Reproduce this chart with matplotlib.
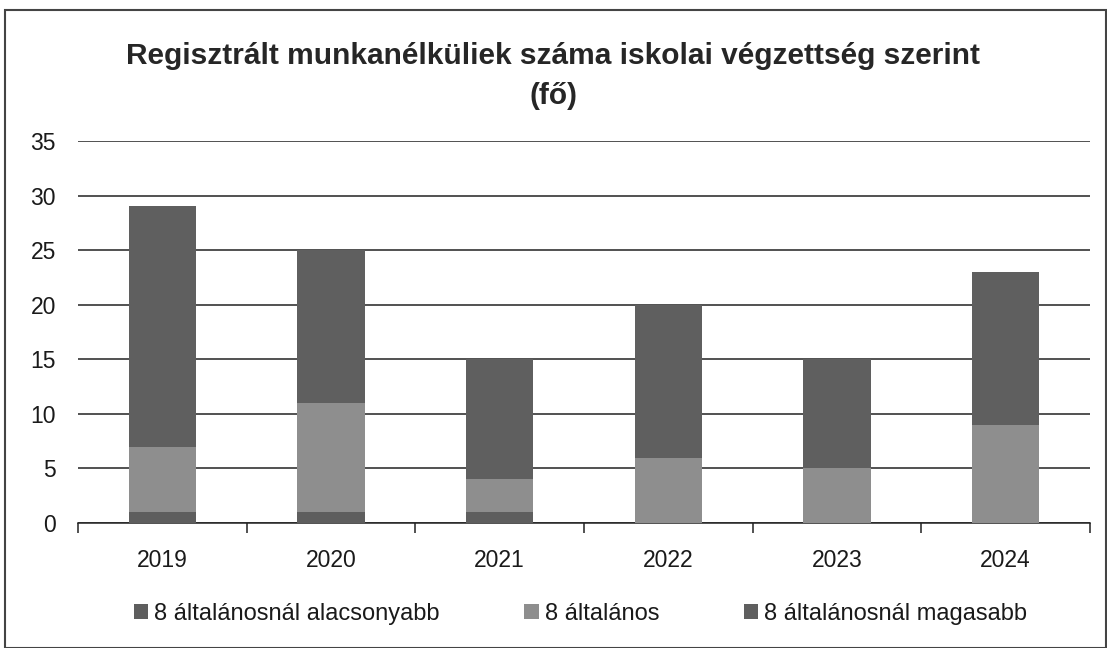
import matplotlib
matplotlib.use("Agg")
import matplotlib.pyplot as plt
from matplotlib.patches import Rectangle
import numpy as np

plt.rcParams['font.family'] = ['Liberation Sans', 'DejaVu Sans']

years = ["2019", "2020", "2021", "2022", "2023", "2024"]
series_names = ["8 általánosnál alacsonyabb", "8 általános", "8 általánosnál magasabb"]
low = [1, 1, 1, 0, 0, 0]
general = [6, 10, 3, 6, 5, 9]
high = [22, 14, 11, 14, 10, 14]
colors = ["#5e5e5e", "#8e8e8e", "#5f5f5f"]

fig = plt.figure(figsize=(11.07, 6.48), dpi=100)
ax = fig.add_axes([78/1107, 1 - 523/648, (1090-78)/1107, (523-141)/648])

x = np.arange(len(years))
w = 0.4
b = np.zeros(len(years))
for vals, name, c in zip([low, general, high], series_names, colors):
    ax.bar(x, vals, w, bottom=b, color=c, label=name, zorder=3)
    b += np.array(vals)

ax.set_xlim(-0.5, len(years) - 0.5)
ax.set_ylim(0, 35)
ax.set_yticks(range(0, 36, 5))
ax.grid(axis='y', color='#222222', linewidth=1.1, zorder=0)
for s in ['top', 'right', 'left']:
    ax.spines[s].set_visible(False)
ax.spines['bottom'].set_color('#222222')
ax.spines['bottom'].set_linewidth(1.1)
ax.set_xticks(x)
ax.set_xticklabels(years, fontsize=16.5, color='#1a1a1a')
ax.tick_params(axis='x', length=0, pad=19)
ax.set_xticks(np.arange(-0.5, len(years), 1), minor=True)
ax.tick_params(axis='x', which='minor', length=7, color='#222222', width=1.1)
ax.tick_params(axis='y', length=0, labelsize=16.5, pad=16, labelcolor='#1a1a1a')

fig.text(0.5, 1 - 56/648, "Regisztrált munkanélküliek száma iskolai végzettség szerint",
         ha='center', va='center', fontsize=21.5, fontweight='bold', color='#262626')
fig.text(0.5, 1 - 96/648, "(fő)", ha='center', va='center', fontsize=21.5,
         fontweight='bold', color='#262626')

fig.legend(loc='center', bbox_to_anchor=(0.5 + 27/1107, 1 - 614/648), ncol=3, frameon=False,
           fontsize=17, handlelength=0.6, handleheight=0.6, handletextpad=0.25,
           columnspacing=3.6, labelcolor='#1a1a1a')

fig.patches.append(Rectangle((5/1107, 0.0), 1 - 5/1107 - 0.001, 1 - 10/648,
                             transform=fig.transFigure, fill=False,
                             edgecolor='#444444', linewidth=1.5))

fig.savefig("out.png", dpi=100)
